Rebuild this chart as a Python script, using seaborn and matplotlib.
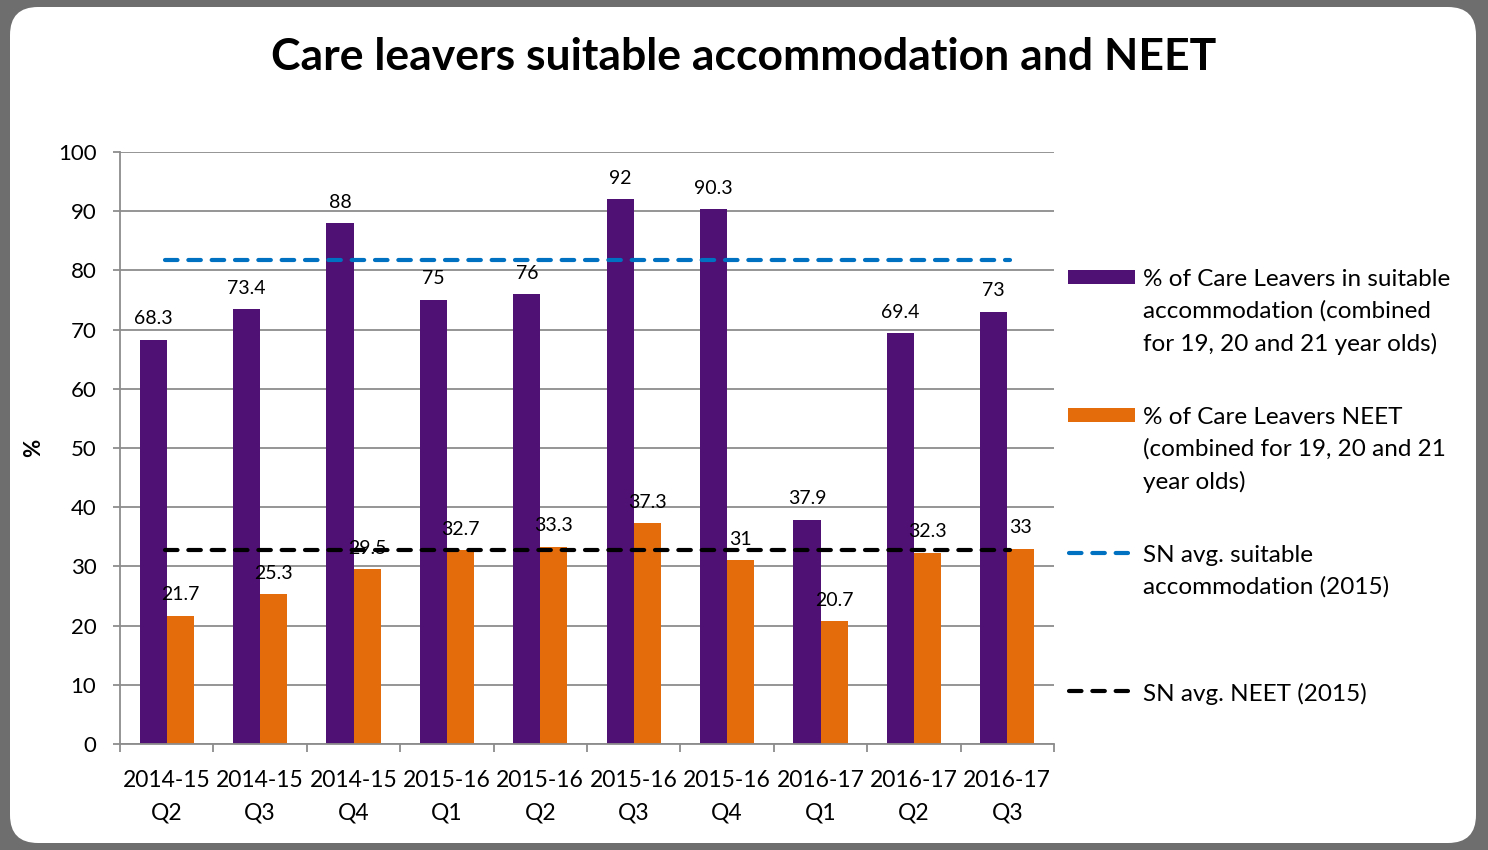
import numpy as np
import pandas as pd
import matplotlib.pyplot as plt
import seaborn as sns
from matplotlib.patches import FancyBboxPatch, Rectangle
from matplotlib.lines import Line2D
from matplotlib.transforms import IdentityTransform

# data
quarters = ["2014-15\nQ2", "2014-15\nQ3", "2014-15\nQ4", "2015-16\nQ1", "2015-16\nQ2",
            "2015-16\nQ3", "2015-16\nQ4", "2016-17\nQ1", "2016-17\nQ2", "2016-17\nQ3"]
suitable = [68.3, 73.4, 88, 75, 76, 92, 90.3, 37.9, 69.4, 73]
neet = [21.7, 25.3, 29.5, 32.7, 33.3, 37.3, 31, 20.7, 32.3, 33]
sn_suitable = 81.7
sn_neet = 32.8

series_names = ["% of Care Leavers in suitable\naccommodation (combined\nfor 19, 20 and 21 year olds)",
                "% of Care Leavers NEET\n(combined for 19, 20 and 21\nyear olds)"]
line_names = ["SN avg. suitable\naccommodation (2015)", "SN avg. NEET (2015)"]

PURPLE = "#4F1173"
ORANGE = "#E46C0A"
BLUE = "#0070C0"
GRID = "#8C8C8C"

df = pd.DataFrame({
    "quarter": quarters * 2,
    "value": suitable + neet,
    "series": [series_names[0]] * len(quarters) + [series_names[1]] * len(quarters),
})

sns.set_theme(style="white")
plt.rcParams["font.family"] = ["Lato", "DejaVu Sans"]
plt.rcParams["text.color"] = "black"
plt.rcParams["axes.labelcolor"] = "black"

W, H = 1488, 850
fig = plt.figure(figsize=(W / 100, H / 100), dpi=100, facecolor="#6E6E6E")

# white rounded card inside the grey frame
card = FancyBboxPatch((10, 7), 1466, 836, boxstyle="round,pad=0,rounding_size=28",
                      transform=IdentityTransform(), fc="white", ec="none", zorder=-10)
fig.patches.append(card)

ax = fig.add_axes([120 / W, 106 / H, 934 / W, 592 / H])
ax.set_facecolor("none")

sns.barplot(data=df, x="quarter", y="value", hue="series", palette=[PURPLE, ORANGE],
            width=0.58, saturation=1, linewidth=0, legend=False, ax=ax)

for cont in ax.containers:
    ax.bar_label(cont, fmt="%g", padding=9, fontsize=14, zorder=3)

n = len(quarters)
ax.hlines(sn_suitable, -0.02, n - 0.97, colors=BLUE, linestyles=(0, (3, 2.6)), lw=3,
          capstyle="round", zorder=5)
ax.hlines(sn_neet, -0.02, n - 0.97, colors="black", linestyles=(0, (3, 2.6)), lw=3,
          capstyle="round", zorder=5)

# axes styling
ax.set_ylim(0, 100)
ax.set_xlim(-0.5, n - 0.5)
ax.set_yticks(range(0, 101, 10))
ax.yaxis.grid(True, color=GRID, lw=1.3)
ax.set_axisbelow(True)
for s in ["top", "right"]:
    ax.spines[s].set_visible(False)
for s in ["left", "bottom"]:
    ax.spines[s].set_color(GRID)
    ax.spines[s].set_linewidth(1.3)

ax.set_xticks(np.arange(-0.5, n, 1), minor=True)
ax.tick_params(axis="y", left=True, length=5, width=1.3, color=GRID, pad=12,
               labelsize=16, labelcolor="black")
ax.tick_params(axis="x", which="major", bottom=True, length=0, pad=19,
               labelsize=16.5, labelcolor="black")
ax.tick_params(axis="x", which="minor", bottom=True, length=6, width=1.3, color=GRID)
for t in ax.get_xticklabels():
    t.set_linespacing(1.65)

ax.set_xlabel("")
ax.set_ylabel("%", fontsize=16, fontweight="bold")
ax.yaxis.set_label_coords((44 - 120) / 934, 0.5)

fig.text(0.5, 1 - 57 / H, "Care leavers suitable accommodation and NEET",
         ha="center", va="center", fontsize=32, fontweight="bold")

# legend, Excel style: marker aligned with first line of each entry
leg_y = [277, 415, 553, 691]
for i, name in enumerate(series_names):
    col = [PURPLE, ORANGE][i]
    fig.patches.append(Rectangle((1068 / W, 1 - (leg_y[i] + 7) / H), 67 / W, 14 / H,
                                 transform=fig.transFigure, fc=col, ec="none"))
    fig.text(1143 / W, 1 - (leg_y[i] - 8) / H, name, fontsize=17.5, va="top",
             ha="left", linespacing=1.6)
for j, name in enumerate(line_names):
    col = [BLUE, "black"][j]
    y = 1 - leg_y[j + 2] / H
    fig.add_artist(Line2D([1069 / W, 1128 / W], [y, y], color=col, lw=3,
                          linestyle=(0, (3, 2.6)), dash_capstyle="round",
                          transform=fig.transFigure))
    fig.text(1143 / W, 1 - (leg_y[j + 2] - 8) / H, name, fontsize=17.5, va="top",
             ha="left", linespacing=1.6)

fig.savefig("out.png", dpi=100, facecolor=fig.get_facecolor())
